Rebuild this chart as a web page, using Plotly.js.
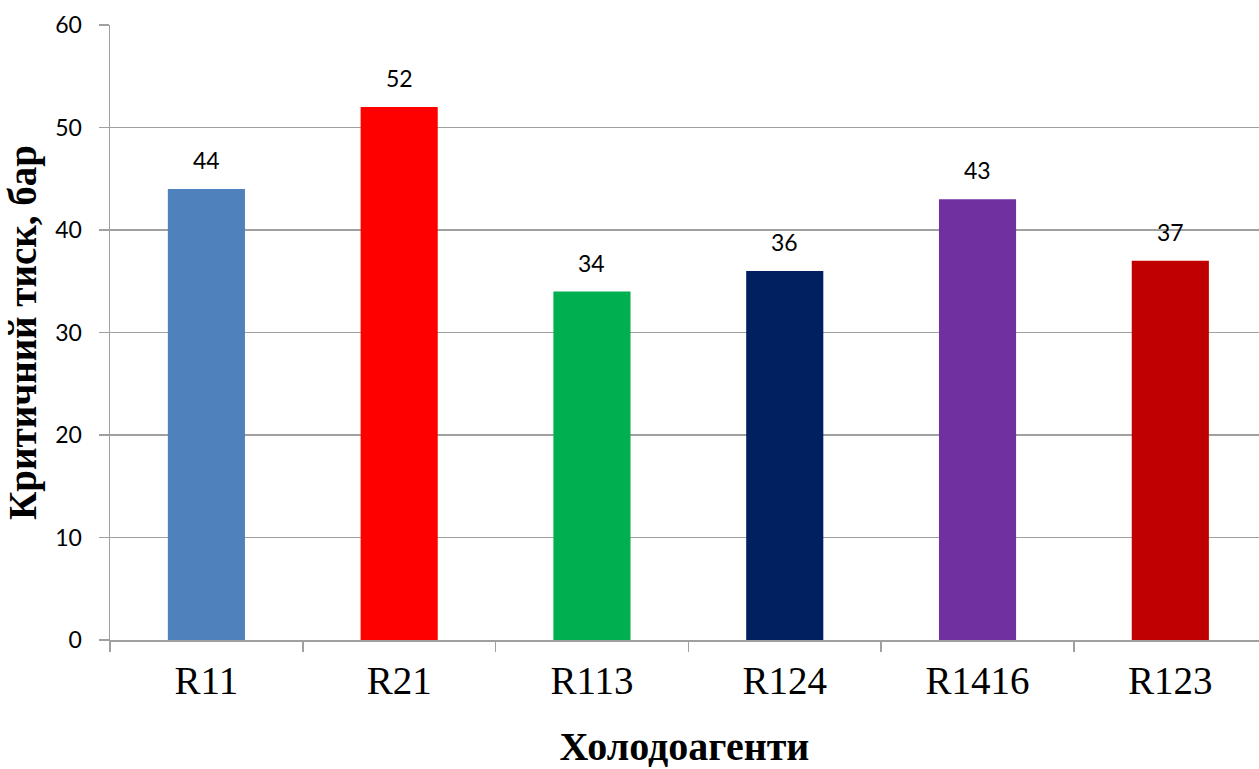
<!DOCTYPE html>
<html>
<head>
<meta charset="utf-8">
<script src="https://cdn.plot.ly/plotly-3.0.1.min.js"></script>
<style>html,body{margin:0;padding:0;background:#fff;}#chart{width:1259px;height:769px;}</style>
</head>
<body>
<div id="chart"></div>
<script>
const categories = ["R11", "R21", "R113", "R124", "R1416", "R123"];
const values = [44, 52, 34, 36, 43, 37];
const barColors = ["#4F81BD", "#FF0000", "#00B050", "#002060", "#7030A0", "#C00000"];
const yTickValues = [0, 10, 20, 30, 40, 50, 60];

const trace = {
  type: "bar",
  x: categories,
  y: values,
  width: 0.4,
  marker: {color: barColors, line: {width: 0}},
  hoverinfo: "x+y"
};

const annotations = categories.map((c, i) => ({
  x: c, y: values[i], xref: "x", yref: "y",
  text: String(values[i]), showarrow: false, yshift: 29,
  font: {family: "Lato, 'Open Sans', sans-serif", size: 23, color: "#000"}
}));

const layout = {
  width: 1259, height: 769,
  margin: {l: 110, r: 0, t: 25, b: 129},
  paper_bgcolor: "#fff", plot_bgcolor: "#fff",
  showlegend: false,
  bargap: 0.6,
  xaxis: {
    type: "category",
    range: [-0.5, 5.46],
    showline: true, linecolor: "#a0a0a0", linewidth: 1.5,
    ticks: "outside", tickson: "boundaries", ticklen: 10, tickcolor: "#a0a0a0", tickwidth: 1.5,
    ticklabelstandoff: 6,
    tickfont: {family: "'Liberation Serif', 'Times New Roman', serif", size: 39, color: "#000"},
    showgrid: false,
    title: {text: "Холодоагенти", standoff: 39,
      font: {family: "'Liberation Serif', 'Times New Roman', serif", size: 40, color: "#000", weight: "bold"}}
  },
  yaxis: {
    range: [0, 60],
    tickvals: yTickValues,
    showline: true, linecolor: "#a0a0a0", linewidth: 1.5,
    ticks: "outside", ticklen: 10, tickcolor: "#a0a0a0", tickwidth: 1.5,
    ticklabelstandoff: 12,
    showgrid: true, gridcolor: "#a0a0a0", gridwidth: 1.5,
    zeroline: false,
    tickfont: {family: "Lato, 'Open Sans', sans-serif", size: 23, color: "#000"},
    title: {text: "Критичний тиск, бар", standoff: 6,
      font: {family: "'Liberation Serif', 'Times New Roman', serif", size: 39, color: "#000", weight: "bold"}}
  },
  annotations: annotations
};

Plotly.newPlot("chart", [trace], layout, {displayModeBar: false, staticPlot: true});
</script>
</body>
</html>
